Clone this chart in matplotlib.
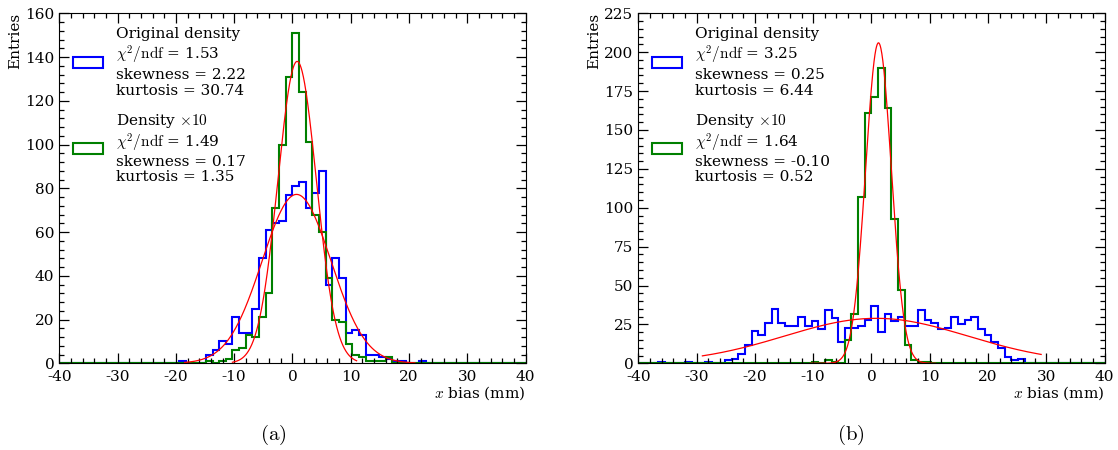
import numpy as np
import matplotlib
matplotlib.use('Agg')
import matplotlib.pyplot as plt
from matplotlib.patches import Patch
from matplotlib.ticker import MultipleLocator

plt.rcParams['font.family'] = 'DejaVu Serif'
plt.rcParams['mathtext.fontset'] = 'cm'
plt.rcParams['axes.unicode_minus'] = False

# 70 bins from -40 to 40 mm
edges = np.linspace(-40, 40, 71)

# (a) entries per bin
a_orig = [0, 0, 0, 0, 0, 0, 0, 0, 0, 0,
          0, 0, 0, 0, 0, 0, 0, 0, 1, 0,
          0, 0, 4, 6, 10, 9, 21, 14, 14, 25,
          48, 61, 64, 65, 77, 81, 83, 71, 78, 88,
          36, 48, 39, 14, 15, 13, 4, 4, 3, 2,
          1, 1, 0, 0, 1, 0, 0, 0, 0, 0,
          0, 0, 0, 0, 0, 0, 0, 0, 0, 0]
a_x10 = [0, 0, 0, 0, 0, 0, 0, 0, 0, 0,
         0, 0, 0, 0, 0, 0, 0, 0, 0, 0,
         0, 0, 1, 0, 1, 2, 6, 7, 13, 12,
         21, 32, 71, 100, 131, 151, 124, 101, 68, 60,
         39, 20, 19, 9, 4, 3, 1, 1, 1, 3,
         0, 0, 0, 0, 0, 0, 0, 0, 0, 0,
         0, 0, 0, 0, 0, 0, 0, 0, 0, 0]

# (b) entries per bin
b_orig = [0, 0, 0, 1, 0, 0, 0, 1, 0, 0,
          1, 0, 0, 2, 3, 6, 12, 21, 18, 26,
          35, 26, 24, 24, 30, 24, 27, 22, 34, 29,
          14, 23, 23, 24, 28, 37, 20, 32, 27, 30,
          24, 24, 34, 28, 26, 22, 23, 30, 25, 28,
          30, 22, 18, 14, 10, 4, 2, 3, 0, 0,
          0, 0, 0, 0, 0, 0, 0, 0, 0, 0]
b_x10 = [0, 0, 0, 0, 0, 0, 0, 0, 0, 0,
         0, 0, 0, 0, 0, 0, 0, 0, 0, 0,
         0, 0, 0, 0, 0, 0, 1, 0, 2, 1,
         0, 15, 32, 107, 161, 171, 190, 164, 93, 47,
         12, 2, 1, 1, 0, 0, 0, 0, 0, 0,
         0, 0, 0, 0, 0, 0, 0, 0, 0, 0,
         0, 0, 0, 0, 0, 0, 0, 0, 0, 0]

# gaussian fits: amplitude, mean, sigma, range lo, range hi
a_fit_orig = [77.2, 0.7, 5.9, -18.5, 21.0]
a_fit_x10 = [138.0, 0.8, 3.3, -10.3, 11.0]
b_fit_orig = [28.9, 0.8, 15.7, -29.0, 29.1]
b_fit_x10 = [206.0, 1.2, 2.2, -10.5, 11.0]

a_stats = [['1.53', '2.22', '30.74'], ['1.49', '0.17', '1.35']]
b_stats = [['3.25', '0.25', '6.44'], ['1.64', '-0.10', '0.52']]


def gaus(p):
    x = np.linspace(p[3], p[4], 400)
    return x, p[0] * np.exp(-0.5 * ((x - p[1]) / p[2]) ** 2)


def panel(ax, orig, x10, fit_o, fit_x, stats, ymax, ymaj, ymin):
    ax.stairs(orig, edges, color='blue', lw=1.5, baseline=0)
    ax.stairs(x10, edges, color='green', lw=1.5, baseline=0)
    for p in (fit_o, fit_x):
        x, y = gaus(p)
        ax.plot(x, y, color='red', lw=0.9)
    ax.set_xlim(-40, 40)
    ax.set_ylim(0, ymax)
    ax.xaxis.set_major_locator(MultipleLocator(10))
    ax.xaxis.set_minor_locator(MultipleLocator(2))
    ax.yaxis.set_major_locator(MultipleLocator(ymaj))
    ax.yaxis.set_minor_locator(MultipleLocator(ymin))
    ax.tick_params(which='both', direction='in', top=True, right=True,
                   labelsize=11, width=0.9)
    ax.tick_params(which='major', length=7)
    ax.tick_params(which='minor', length=3.5)
    ax.tick_params(axis='x', pad=5)
    ax.set_ylabel('Entries', loc='top', fontsize=11, labelpad=2)
    ax.set_xlabel('$x$ bias (mm)', loc='right', fontsize=11, labelpad=0)

    handles = [Patch(facecolor='none', edgecolor='blue', lw=1.5),
               Patch(facecolor='none', edgecolor='green', lw=1.5)]
    labels = ['Original density\n$\\chi^2/\\mathrm{ndf}$ = %s\nskewness = %s\nkurtosis = %s' % tuple(stats[0]),
              'Density $\\times10$\n$\\chi^2/\\mathrm{ndf}$ = %s\nskewness = %s\nkurtosis = %s' % tuple(stats[1])]
    leg = ax.legend(handles, labels, loc='upper left', bbox_to_anchor=(0.029, 0.962),
                    frameon=False, fontsize=11, handlelength=2.0, handleheight=0.7,
                    handletextpad=0.85, labelspacing=0.9, borderpad=0, borderaxespad=0)
    leg.get_texts()[1].set_linespacing(1.1)


fig = plt.figure(figsize=(11.18, 4.5), dpi=100)
ax1 = fig.add_axes([0.0530, 0.1927, 0.4172, 0.7778])
ax2 = fig.add_axes([0.5709, 0.1927, 0.4172, 0.7778])

panel(ax1, a_orig, a_x10, a_fit_orig, a_fit_x10, a_stats, 160, 20, 4)
panel(ax2, b_orig, b_x10, b_fit_orig, b_fit_x10, b_stats, 225, 25, 5)

fig.text(273 / 1118, 1 - 435 / 450, '$\\mathrm{(a)}$', ha='center', va='center', fontsize=15)
fig.text(851 / 1118, 1 - 435 / 450, '$\\mathrm{(b)}$', ha='center', va='center', fontsize=15)

fig.savefig('out.png', dpi=100)
